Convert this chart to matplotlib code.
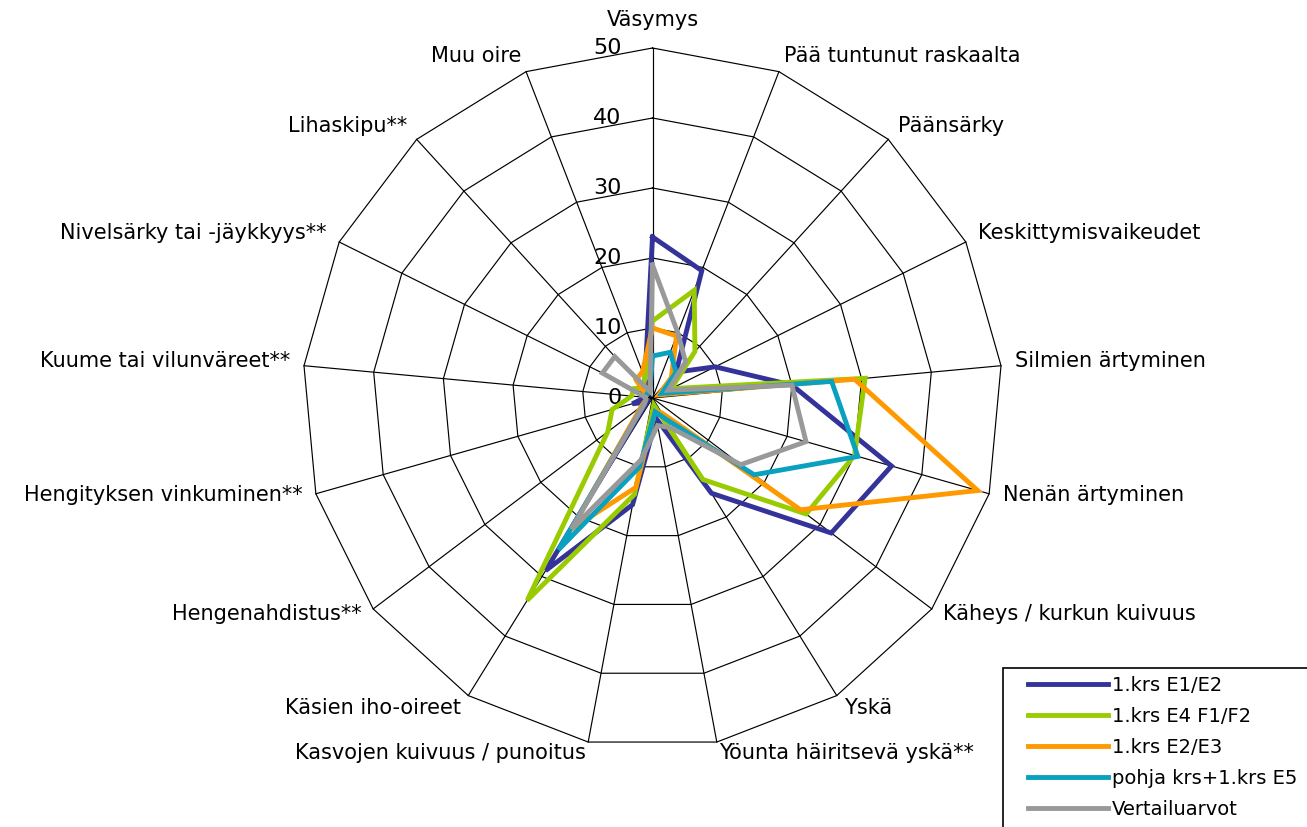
import numpy as np
import matplotlib
matplotlib.use("Agg")
import matplotlib.pyplot as plt
from matplotlib.patches import Rectangle

categories = ["Väsymys", "Pää tuntunut raskaalta", "Päänsärky", "Keskittymisvaikeudet",
              "Silmien ärtyminen", "Nenän ärtyminen", "Käheys / kurkun kuivuus", "Yskä",
              "Yöunta häiritsevä yskä**", "Kasvojen kuivuus / punoitus", "Käsien iho-oireet",
              "Hengenahdistus**", "Hengityksen vinkuminen**", "Kuume tai vilunväreet**",
              "Nivelsärky tai -jäykkyys**", "Lihaskipu**", "Muu oire"]

series_names = ["1.krs E1/E2", "1.krs E4 F1/F2", "1.krs E2/E3", "pohja krs+1.krs E5", "Vertailuarvot"]

krs1_e1_e2 = [23, 19.5, 5, 10, 20, 35.5, 32, 16, 3, 15.5, 29, 1, 3, 1, 1, 1, 3]
krs1_e4_f1_f2 = [11, 16.5, 9, 3, 30.5, 30, 27.5, 13.7, 1, 14, 34, 8, 6, 3, 3, 2, 3]
krs1_e2_e3 = [10, 9.5, 4, 1, 29, 48.3, 26.5, 2.5, 2, 13, 22, 2, 1, 1, 1, 3.5, 4]
pohja_e5 = [6, 7, 5, 1.5, 25.7, 30.5, 18.2, 3.5, 2, 10, 25.5, 1.5, 1, 1, 1, 1, 1]
vertailu = [19, 10, 7, 2.5, 20, 22.8, 15.8, 5, 4, 9, 22, 1.5, 1, 1, 8, 8, 1]

radial_ticks = [0, 10, 20, 30, 40, 50]

series_values = [krs1_e1_e2, krs1_e4_f1_f2, krs1_e2_e3, pohja_e5, vertailu]
colors = ["#333399", "#99cc00", "#ff9900", "#0aa0c0", "#999999"]

W, H = 1307, 827
fig = plt.figure(figsize=(W / 100, H / 100), dpi=100)
cx, cy, R = 652.5, 398, 350
ax = fig.add_axes([(cx - R) / W, (H - cy - R) / H, 2 * R / W, 2 * R / H], projection="polar")
ax.set_theta_offset(np.pi / 2)
ax.set_theta_direction(-1)
ax.set_ylim(0, radial_ticks[-1])
ax.grid(False)
ax.spines["polar"].set_visible(False)
ax.set_xticks([])
ax.set_yticks([])
ax.patch.set_visible(False)

n = len(categories)
angles = np.linspace(0, 2 * np.pi, n, endpoint=False)
closed = np.append(angles, angles[0])

for t in radial_ticks[1:]:
    ax.plot(closed, [t] * (n + 1), color="black", lw=0.85, zorder=1, clip_on=False)
for a in angles:
    ax.plot([a, a], [0, radial_ticks[-1]], color="black", lw=0.85, zorder=1, clip_on=False)

for t in radial_ticks:
    ax.annotate(str(t), xy=(0, t), xytext=(-31, 0), textcoords="offset pixels",
                ha="right", va="center", fontsize=16, color="black")

handles = []
for name, vals, col in zip(series_names, series_values, colors):
    v = np.append(vals, vals[0])
    h, = ax.plot(closed, v, color=col, lw=3.5, zorder=3, clip_on=False,
                 solid_joinstyle="miter", label=name)
    handles.append(h)

for a, lab in zip(angles, categories):
    phi = np.pi / 2 - a
    c, s = np.cos(phi), np.sin(phi)
    if abs(c) < 0.05:
        ha = "center"
        off = (0, 28)
    else:
        ha = "left" if c > 0 else "right"
        dy = 14 * s + 3
        if s < -0.8 and s > -0.9:
            dy -= 4
        off = (14 * c, dy)
    ax.annotate(lab, xy=(a, radial_ticks[-1]), xytext=off, textcoords="offset pixels",
                ha=ha, va="center", fontsize=15, color="black", annotation_clip=False)

fig.legend(handles, series_names, loc="upper left",
           bbox_to_anchor=(1028 / W, (H - 676) / H), frameon=False, fontsize=14,
           handlelength=4.1, handletextpad=0.2, labelspacing=0.62, borderpad=0,
           borderaxespad=0)
fig.patches.append(Rectangle((1003 / W, -0.02), 0.3, (H - 668) / H + 0.02,
                             transform=fig.transFigure, fill=False, edgecolor="black", lw=1.2))

fig.savefig("out.png", dpi=100)
